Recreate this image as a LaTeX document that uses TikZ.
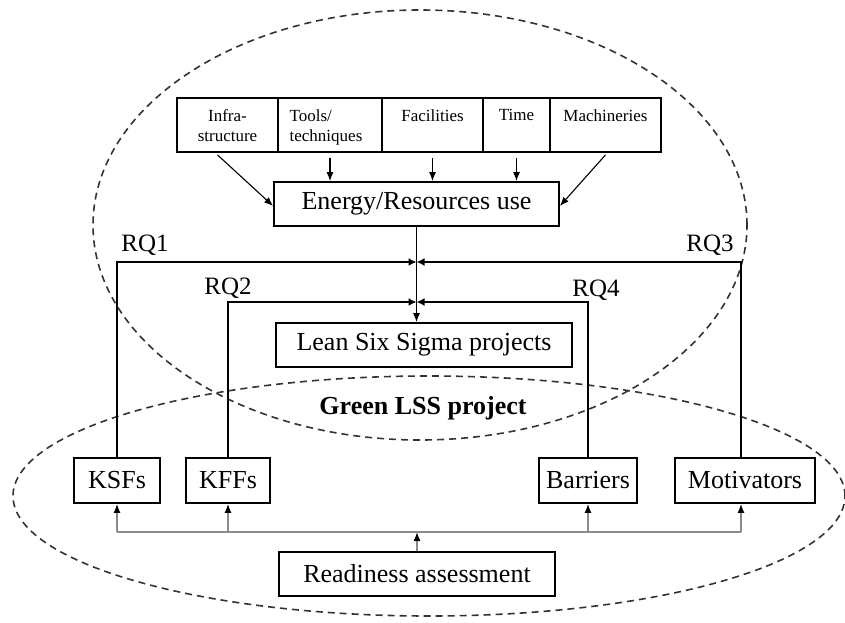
\documentclass[tikz,border=0pt]{standalone}
\usepackage{fontspec}
\setmainfont{Liberation Serif}
\usetikzlibrary{arrows.meta}

\tikzset{
	zone/.style={draw=black!80, line width=1.6pt, dash pattern=on 7pt off 5pt},
	box/.style={draw, line width=1.8pt, fill=white, inner sep=0pt, font=\fontsize{26}{30}\selectfont},
	smallbox/.style={draw, line width=1.8pt, fill=white, inner sep=0pt, minimum height=54pt},
	lab/.style={anchor=north, inner sep=0pt, yshift=-12pt, align=center, font=\fontsize{17}{20}\selectfont},
	feedin/.style={line width=1.1pt, -{Latex[length=9pt,width=7pt]}},
	rq/.style={line width=2.4pt, -{Latex[length=8pt,width=8pt]}},
	rqlab/.style={font=\fontsize{25}{28}\selectfont, inner sep=0pt},
	bus/.style={draw=black!45, line width=1.4pt},
	busin/.style={bus, -{Latex[length=9pt,width=7pt,color=black]}}
}

\begin{document}
\begin{tikzpicture}[x=1pt, y=-1pt]
			%%%%% START %%%%%
			\useasboundingbox (0,0) rectangle (845,623);
			
			% the two project zones
			\draw[zone] (420,225) ellipse [x radius=327pt, y radius=215pt];
			\draw[zone] (429,496) ellipse [x radius=416pt, y radius=120pt];
			
			% resources row
			\node[smallbox, minimum width=101pt, label={[lab]north:Infra-\\structure}] (infra) at (227.5,125) {};
			\node[smallbox, minimum width=104pt, label={[lab, xshift=-4pt, align=left]north:Tools/\\techniques}] (tools) at (330,125) {};
			\node[smallbox, minimum width=101pt, label={[lab]north:Facilities}] (facil) at (432.5,125) {};
			\node[smallbox, minimum width=66pt, label={[lab]north:Time}] (time) at (516.5,125) {};
			\node[smallbox, minimum width=111pt, label={[lab]north:Machineries}] (mach) at (605.5,125) {};
			
			\node[box, minimum width=285pt, minimum height=44pt] (energy) at (416.5,204) {Energy/Resources use};
			
			\draw[feedin] ([xshift=-10pt, yshift=-2pt]infra.south) -- ([yshift=-2pt]energy.west);
			\draw[feedin] ([yshift=-5pt]tools.south) -- (tools.south |- energy.north);
			\draw[feedin] ([yshift=-5pt]facil.south) -- (facil.south |- energy.north);
			\draw[feedin] ([yshift=-5pt]time.south) -- (time.south |- energy.north);
			\draw[feedin] ([yshift=-2pt]mach.south) -- ([yshift=-2pt]energy.east);
			
			% lean six sigma
			\node[box, minimum width=296pt, minimum height=44pt] (lss) at (424,345) {Lean Six Sigma projects};
			\node[font=\fontsize{26}{30}\selectfont\bfseries] (green) at (423,408) {Green LSS project};
			
			\coordinate (j1) at (416.5,262);
			\coordinate (j2) at (416.5,302);
			\draw[feedin] (energy.south) -- (energy.south |- lss.north);
			
			% factors
			\node[box, minimum width=86pt, minimum height=45pt] (ksf) at (117,480.5) {KSFs};
			\node[box, minimum width=84pt, minimum height=45pt] (kff) at (228,480.5) {KFFs};
			\node[box, minimum width=98pt, minimum height=45pt] (bar) at (588,480.5) {Barriers};
			\node[box, minimum width=140pt, minimum height=45pt] (mot) at (745,480.5) {Motivators};
			
			\draw[rq] (ksf.north) |- (j1);
			\draw[rq] ([xshift=-4pt]mot.north) |- (j1);
			\draw[rq] (kff.north) |- (j2);
			\draw[rq] (bar.north) |- (j2);
			
			\node[rqlab] (rq1) at (145,245) {RQ1};
			\node[rqlab] (rq2) at (228,288) {RQ2};
			\node[rqlab] (rq3) at (710,245) {RQ3};
			\node[rqlab] (rq4) at (596,290) {RQ4};
			
			% readiness
			\node[box, minimum width=276pt, minimum height=44pt] (ready) at (417,574) {Readiness assessment};
			\coordinate (hub) at (417,532);
			\draw[busin] (ready.north) -- (hub);
			\draw[bus] (ksf.south |- hub) -- ([xshift=-4pt]mot.south |- hub);
			\draw[busin] (ksf.south |- hub) -- (ksf.south);
			\draw[busin] (kff.south |- hub) -- (kff.south);
			\draw[busin] (bar.south |- hub) -- (bar.south);
			\draw[busin] ([xshift=-4pt]mot.south |- hub) -- ([xshift=-4pt]mot.south);
			
			%%%%% END %%%%%
		\end{tikzpicture}
\end{document}
